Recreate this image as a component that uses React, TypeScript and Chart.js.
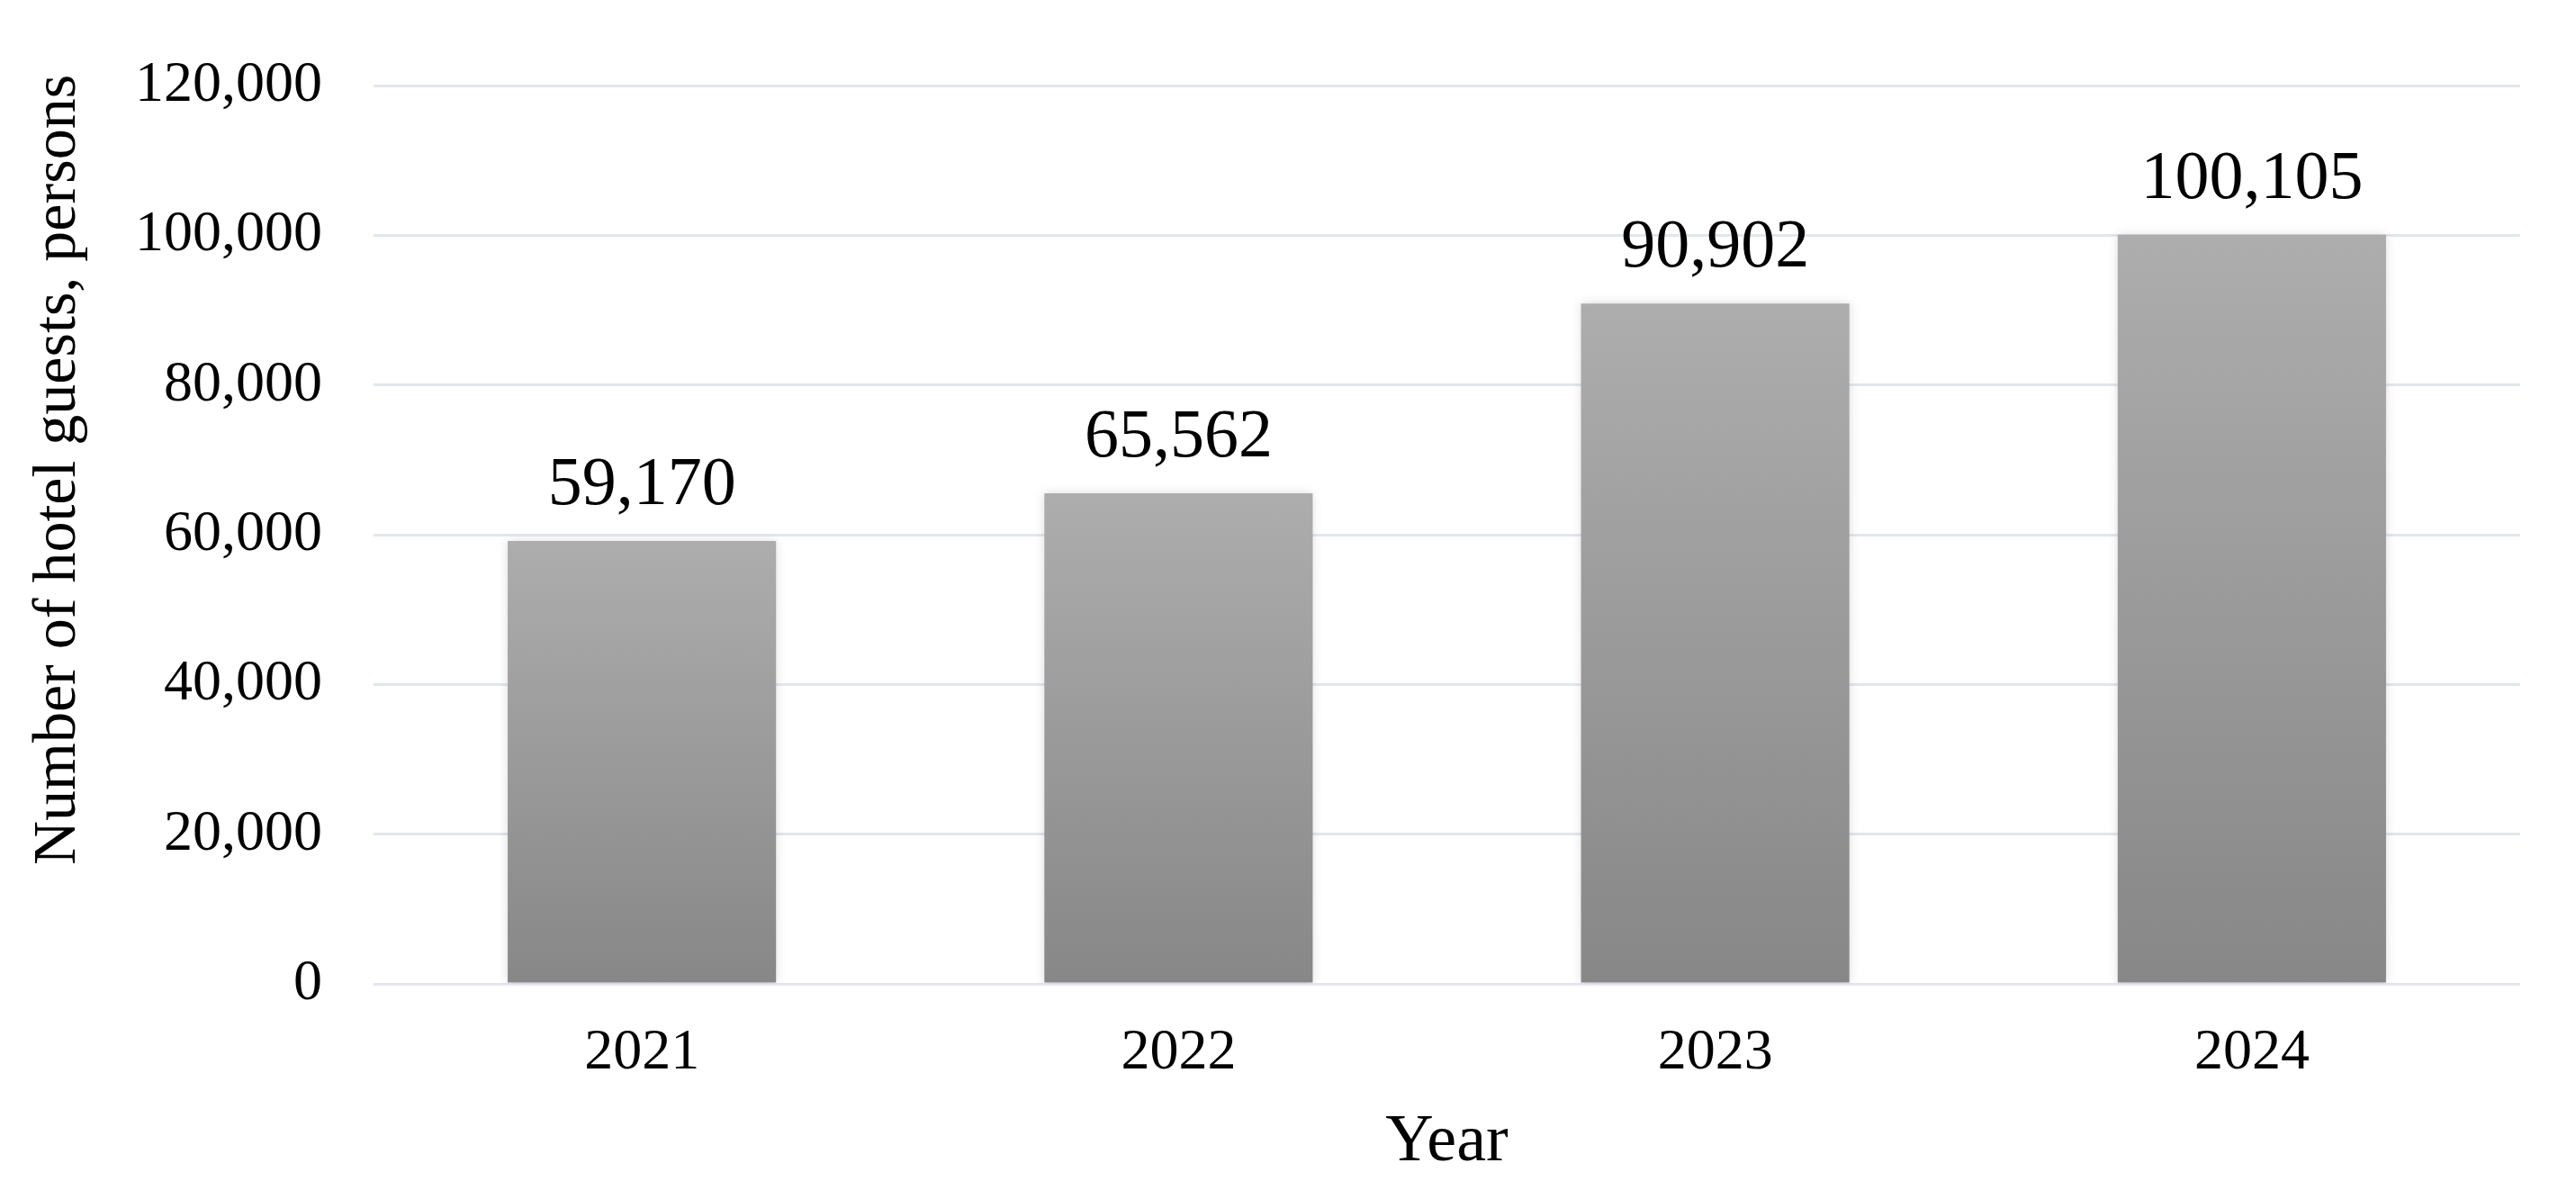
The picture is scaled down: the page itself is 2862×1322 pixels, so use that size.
import React, { useEffect, useRef } from "react";
import { Chart, registerables } from "chart.js";

Chart.register(...registerables);

const years: string[] = ["2021", "2022", "2023", "2024"];
const guests: number[] = [59170, 65562, 90902, 100105];
const yTicks: number[] = [0, 20000, 40000, 60000, 80000, 100000, 120000];
const yTitle = "Number of hotel guests, persons";
const xTitle = "Year";

const FONT = "'Liberation Serif', 'Times New Roman', serif";
const fmt = (v: number) => v.toLocaleString("en-US");

export default function App() {
  const ref = useRef<HTMLCanvasElement | null>(null);

  useEffect(() => {
    const canvas = ref.current;
    if (!canvas) return;

    const shadowPlugin = {
      id: "barShadow",
      beforeDatasetsDraw(chart: any) {
        const ctx = chart.ctx;
        ctx.save();
        ctx.shadowColor = "rgba(0,0,0,0.14)";
        ctx.shadowBlur = 10;
      },
      afterDatasetsDraw(chart: any) {
        chart.ctx.restore();
      },
    };

    const labelPlugin = {
      id: "valueLabels",
      afterDatasetsDraw(chart: any) {
        const ctx = chart.ctx;
        const meta = chart.getDatasetMeta(0);
        ctx.save();
        ctx.font = `76px ${FONT}`;
        ctx.fillStyle = "#000";
        ctx.textAlign = "center";
        ctx.textBaseline = "alphabetic";
        meta.data.forEach((el: any, i: number) => {
          ctx.fillText(fmt(guests[i]), el.x, el.y - 41);
        });
        ctx.restore();
      },
    };

    const yTitlePlugin = {
      id: "yTitle",
      afterDraw(chart: any) {
        const ctx = chart.ctx;
        ctx.save();
        ctx.translate(83, 522);
        ctx.rotate(-Math.PI / 2);
        ctx.font = `68px ${FONT}`;
        ctx.fillStyle = "#000";
        ctx.textAlign = "center";
        ctx.textBaseline = "alphabetic";
        ctx.fillText(yTitle, 0, 0);
        ctx.restore();
      },
    };

    const chart = new Chart(canvas, {
      type: "bar",
      data: {
        labels: years,
        datasets: [
          {
            data: guests,
            backgroundColor: (c: any) => {
              const ch = c.chart;
              const ys = ch.scales && ch.scales.y;
              if (!ys || c.raw == null) return "#9a9a9a";
              const top = ys.getPixelForValue(c.raw);
              const bottom = ys.getPixelForValue(0);
              if (!isFinite(top) || !isFinite(bottom) || top === bottom) return "#9a9a9a";
              const g = ch.ctx.createLinearGradient(0, top, 0, bottom);
              g.addColorStop(0, "#adadad");
              g.addColorStop(1, "#878787");
              return g;
            },
            borderWidth: 0,
            categoryPercentage: 1,
            barPercentage: 0.5,
          },
        ],
      },
      options: {
        responsive: false,
        animation: false,
        layout: { padding: { top: 93, right: 62, left: 0, bottom: 0 } },
        plugins: {
          legend: { display: false },
          tooltip: { enabled: false },
          title: { display: false },
        },
        scales: {
          x: {
            grid: { display: false, drawTicks: false },
            border: { display: false },
            ticks: {
              padding: 39,
              color: "#000",
              font: { family: FONT, size: 64 },
            },
            title: {
              display: true,
              text: xTitle,
              color: "#000",
              font: { family: FONT, size: 74 },
              padding: { top: 0, bottom: 8 },
            },
            afterFit(scale: any) {
              scale.height = 229;
            },
          },
          y: {
            min: 0,
            max: 120000,
            afterBuildTicks(scale: any) {
              scale.ticks = yTicks.map((v) => ({ value: v }));
            },
            grid: { color: "#e3e6ec", lineWidth: 3, drawTicks: false },
            border: { display: false },
            ticks: {
              padding: 57,
              color: "#000",
              font: { family: FONT, size: 64 },
              callback: (v: any) => fmt(Number(v)),
            },
            afterFit(scale: any) {
              scale.width = 415;
            },
          },
        },
      },
      plugins: [shadowPlugin, labelPlugin, yTitlePlugin],
    });

    return () => chart.destroy();
  }, []);

  return (
    <div style={{ position: "fixed", left: 0, top: 0, width: 2862, height: 1322, background: "#fff" }}>
      <canvas ref={ref} width={2862} height={1322} style={{ display: "block" }} />
    </div>
  );
}
